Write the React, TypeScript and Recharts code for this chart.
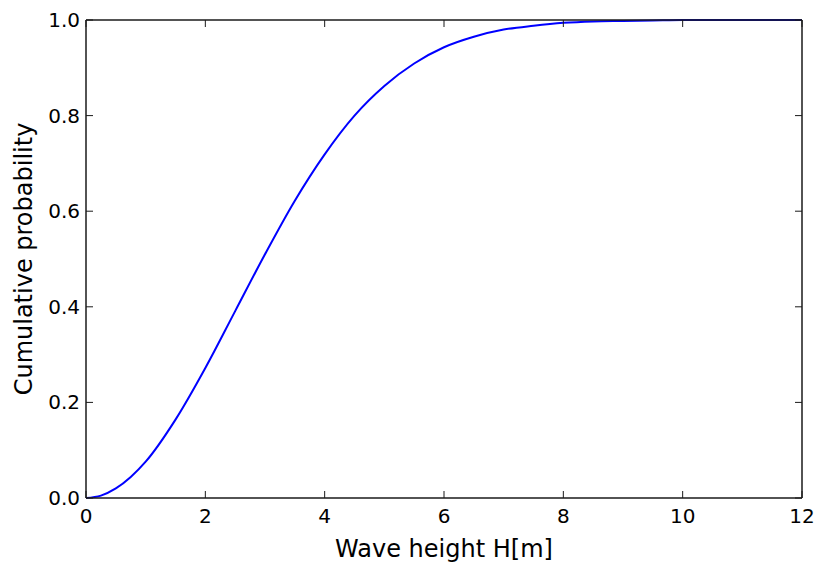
import React from 'react';
import { LineChart, Line, XAxis, YAxis } from 'recharts';

// wave height H [m] and cumulative probability
const heights = [0, 0.25, 0.5, 0.75, 1, 1.5, 2, 2.5, 3, 3.5, 4, 4.5, 5, 5.5, 6, 6.5, 7, 7.5, 8, 8.5, 9, 9.5, 10, 10.5, 11, 11.5, 12];
const probs = [0, 0.005, 0.02, 0.044, 0.076, 0.164, 0.272, 0.391, 0.51, 0.622, 0.719, 0.8, 0.862, 0.909, 0.943, 0.965, 0.98, 0.988, 0.994, 0.997, 0.998, 0.999, 1.0, 1.0, 1.0, 1.0, 1.0];

const xTicks = [0, 2, 4, 6, 8, 10, 12];
const yTicks = [0, 0.2, 0.4, 0.6, 0.8, 1.0];

const data = heights.map((h, i) => ({ h, p: probs[i] }));

const FONT = '"DejaVu Sans", sans-serif';
const AXIS = '#1a1a1a';
const TICK_LEN = 7;

// ticks point into the plot, like matplotlib's classic style
const BottomTick = (props: any) => {
  const { x, y, payload } = props;
  return (
    <g>
      <line x1={x} y1={y} x2={x} y2={y - TICK_LEN} stroke={AXIS} strokeWidth={1} />
      <text x={x} y={y + 25} textAnchor="middle" fontFamily={FONT} fontSize={20} fill="#000">
        {payload.value}
      </text>
    </g>
  );
};

const TopTick = (props: any) => {
  const { x, y } = props;
  return <line x1={x} y1={y} x2={x} y2={y + TICK_LEN} stroke={AXIS} strokeWidth={1} />;
};

const LeftTick = (props: any) => {
  const { x, y, payload } = props;
  return (
    <g>
      <line x1={x} y1={y} x2={x + TICK_LEN} y2={y} stroke={AXIS} strokeWidth={1} />
      <text x={x - 6} y={y + 7} textAnchor="end" fontFamily={FONT} fontSize={20} fill="#000">
        {Number(payload.value).toFixed(1)}
      </text>
    </g>
  );
};

const RightTick = (props: any) => {
  const { x, y } = props;
  return <line x1={x} y1={y} x2={x - TICK_LEN} y2={y} stroke={AXIS} strokeWidth={1} />;
};

const XLabel = (props: any) => {
  const { viewBox } = props;
  const cx = viewBox.x + viewBox.width / 2;
  return (
    <text x={cx} y={557} textAnchor="middle" fontFamily={FONT} fontSize={24} fill="#000">
      Wave height H[m]
    </text>
  );
};

const YLabel = (props: any) => {
  const { viewBox } = props;
  const cy = viewBox.y + viewBox.height / 2;
  return (
    <text x={32} y={cy} transform={`rotate(-90, 32, ${cy})`} textAnchor="middle" fontFamily={FONT} fontSize={24} fill="#000">
      Cumulative probability
    </text>
  );
};

export default function App() {
  return (
    <div style={{ position: 'absolute', left: 0, top: 0, width: 818, height: 563, background: '#fff' }}>
      <LineChart width={818} height={563} data={data} margin={{ top: 19, right: 15, bottom: 0, left: 0 }}>
        <XAxis
          xAxisId="bottom"
          dataKey="h"
          type="number"
          domain={[0, 12]}
          ticks={xTicks}
          height={65}
          tickSize={0}
          tickMargin={0}
          tickLine={false}
          tick={<BottomTick />}
          axisLine={{ stroke: AXIS, strokeWidth: 1.5 }}
          label={{ content: <XLabel /> }}
          interval={0}
        />
        <XAxis
          xAxisId="top"
          orientation="top"
          dataKey="h"
          type="number"
          domain={[0, 12]}
          ticks={xTicks}
          height={1}
          tickSize={0}
          tickMargin={0}
          tickLine={false}
          tick={<TopTick />}
          axisLine={{ stroke: AXIS, strokeWidth: 1.5 }}
          interval={0}
        />
        <YAxis
          yAxisId="left"
          type="number"
          domain={[0, 1]}
          ticks={yTicks}
          width={86}
          tickSize={0}
          tickMargin={0}
          tickLine={false}
          tick={<LeftTick />}
          axisLine={{ stroke: AXIS, strokeWidth: 1.5 }}
          label={{ content: <YLabel /> }}
          interval={0}
        />
        <YAxis
          yAxisId="right"
          orientation="right"
          type="number"
          domain={[0, 1]}
          ticks={yTicks}
          width={1}
          tickSize={0}
          tickMargin={0}
          tickLine={false}
          tick={<RightTick />}
          axisLine={{ stroke: AXIS, strokeWidth: 1.5 }}
          interval={0}
        />
        <Line
          xAxisId="bottom"
          yAxisId="left"
          type="monotone"
          dataKey="p"
          stroke="#0000ff"
          strokeWidth={2}
          dot={false}
          isAnimationActive={false}
        />
        {/* same curve on the mirrored axes, hidden, so those axes get drawn */}
        <Line
          xAxisId="top"
          yAxisId="right"
          type="monotone"
          dataKey="p"
          stroke="none"
          dot={false}
          activeDot={false}
          legendType="none"
          isAnimationActive={false}
        />
      </LineChart>
    </div>
  );
}
